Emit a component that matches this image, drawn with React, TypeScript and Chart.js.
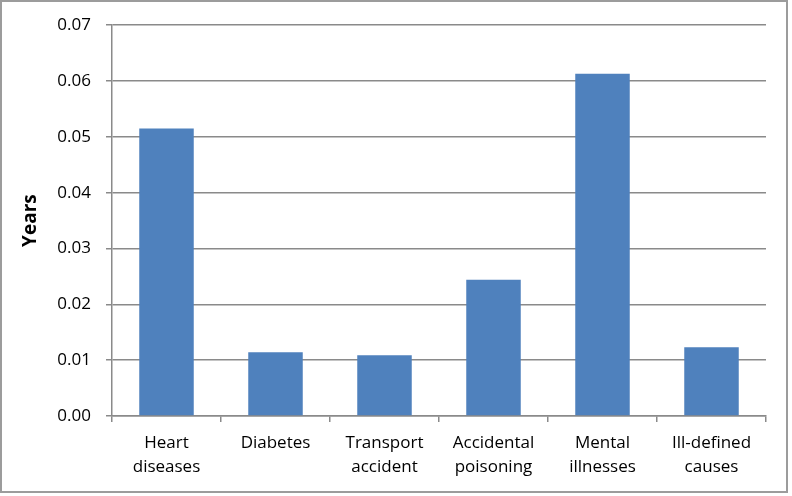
import React, { useEffect, useRef } from "react";
import { Chart, registerables } from "chart.js";

Chart.register(...registerables);

const categories: string[][] = [
  ["Heart", "diseases"],
  ["Diabetes"],
  ["Transport", "accident"],
  ["Accidental", "poisoning"],
  ["Mental", "illnesses"],
  ["Ill-defined", "causes"],
];
const years: number[] = [0.0515, 0.0114, 0.0109, 0.0244, 0.0613, 0.0123];
const yMin = 0;
const yMax = 0.07;
const yStep = 0.01;

const FONT = "'Open Sans', 'Noto Sans', sans-serif";
const GRID = "#8a8a8a";

const borderPlugin = {
  id: "outerBorder",
  beforeDraw(chart: any) {
    const ctx = chart.ctx;
    ctx.save();
    ctx.fillStyle = "#ffffff";
    ctx.fillRect(0, 0, chart.width, chart.height);
    ctx.strokeStyle = "#9c9c9c";
    ctx.lineWidth = 2;
    ctx.strokeRect(1, 1, 786, 491);
    ctx.restore();
  },
};

export default function App() {
  const ref = useRef<HTMLCanvasElement | null>(null);
  useEffect(() => {
    document.body.style.margin = "0";
    const chart = new Chart(ref.current as HTMLCanvasElement, {
      type: "bar",
      data: {
        labels: categories,
        datasets: [
          {
            data: years,
            backgroundColor: "#4F81BD",
            borderWidth: 0,
            categoryPercentage: 0.5,
            barPercentage: 1,
          },
        ],
      },
      plugins: [borderPlugin],
      options: {
        responsive: false,
        animation: false,
        layout: { padding: { left: 0, top: 23, right: 26, bottom: 0 } },
        plugins: { legend: { display: false }, tooltip: { enabled: false } },
        scales: {
          x: {
            offset: true,
            grid: {
              display: true,
              drawOnChartArea: false,
              drawTicks: true,
              tickLength: 6,
              color: GRID,
              lineWidth: 1.5,
              offset: true,
            },
            border: { display: true, color: GRID, width: 1.5 },
            ticks: {
              color: "#000",
              padding: 9,
              maxRotation: 0,
              autoSkip: false,
              font: { family: FONT, size: 17, lineHeight: 1.41 },
            },
            afterFit(scale: any) {
              scale.height = 80;
            },
          },
          y: {
            min: yMin,
            max: yMax,
            grid: {
              color: GRID,
              lineWidth: 1.5,
              tickLength: 6,
            },
            border: { display: true, color: GRID, width: 1.5 },
            ticks: {
              stepSize: yStep,
              color: "#000",
              padding: 15,
              font: { family: FONT, size: 17 },
              callback: (v: any) => Number(v).toFixed(2),
            },
            title: {
              display: true,
              text: "Years",
              color: "#000",
              font: { family: FONT, size: 19, weight: "bold" },
              padding: { top: 19, bottom: 0 },
            },
            afterFit(scale: any) {
              scale.width = 112;
            },
          },
        },
      },
    });
    return () => chart.destroy();
  }, []);
  return (
    <div style={{ width: 792, height: 496, position: "relative" }}>
      <canvas ref={ref} width={792} height={496} style={{ display: "block", width: 792, height: 496 }} />
    </div>
  );
}
